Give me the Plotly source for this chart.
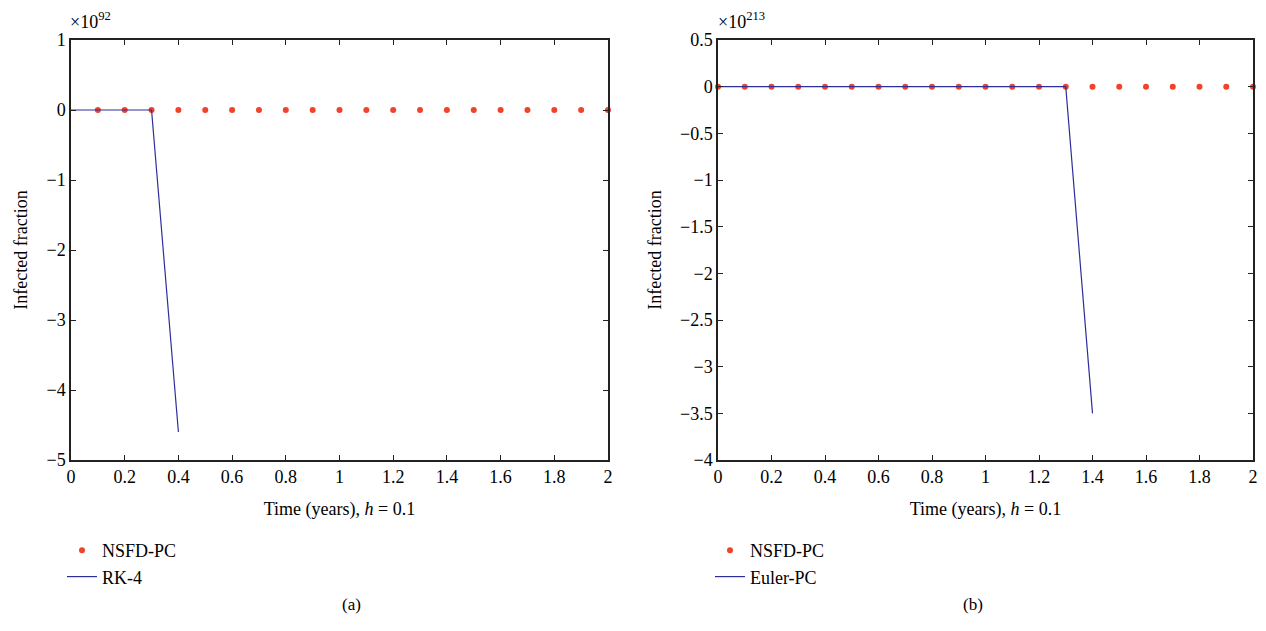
import plotly.graph_objects as go

# Panel (a): values in units of 1e92
xa_dots = [0.1,0.2,0.3,0.4,0.5,0.6,0.7,0.8,0.9,1.0,1.1,1.2,1.3,1.4,1.5,1.6,1.7,1.8,1.9,2.0]
ya_dots = [0]*20
xa_line = [0,0.1,0.2,0.3,0.4]
ya_line = [0,0,0,0,-4.6]
# Panel (b): values in units of 1e213
xb_dots = [0,0.1,0.2,0.3,0.4,0.5,0.6,0.7,0.8,0.9,1.0,1.1,1.2,1.3,1.4,1.5,1.6,1.7,1.8,1.9,2.0]
yb_dots = [0]*21
xb_line = [0,0.1,0.2,0.3,0.4,0.5,0.6,0.7,0.8,0.9,1.0,1.1,1.2,1.3,1.4]
yb_line = [0]*14 + [-3.5]

W, H, OFF = 1250, 615, 8
def px(x): return (x - OFF) / W
def py(y): return 1 - (y - OFF) / H

RED = "#F0432A"
NAVY = "#2E2E9A"
fig = go.Figure()
fig.add_trace(go.Scatter(x=xa_dots, y=ya_dots, mode="markers", marker=dict(color=RED, size=6),
                         name="NSFD-PC", xaxis="x", yaxis="y", legend="legend", cliponaxis=False))
fig.add_trace(go.Scatter(x=xa_line, y=ya_line, mode="lines", line=dict(color=NAVY, width=1.2),
                         name="RK-4", xaxis="x", yaxis="y", legend="legend"))
fig.add_trace(go.Scatter(x=xb_dots, y=yb_dots, mode="markers", marker=dict(color=RED, size=6),
                         name="NSFD-PC", xaxis="x2", yaxis="y2", legend="legend2", cliponaxis=False))
fig.add_trace(go.Scatter(x=xb_line, y=yb_line, mode="lines", line=dict(color=NAVY, width=1.2),
                         name="Euler-PC", xaxis="x2", yaxis="y2", legend="legend2"))

ax = dict(showgrid=False, zeroline=False, showline=True, linecolor="#222222", linewidth=1.5,
          mirror="ticks", ticks="inside", ticklen=5, tickcolor="#222222", tickfont=dict(size=18),
          automargin=False)
fig.update_layout(
    width=W, height=H, margin=dict(l=0, r=0, t=0, b=0),
    paper_bgcolor="white", plot_bgcolor="white",
    font=dict(family="Liberation Serif", color="black", size=18),
    xaxis=dict(ax, domain=[px(71), px(608)], range=[0, 2], dtick=0.2, anchor="y",
               title=dict(text="Time (years), <i>h</i> = 0.1", font=dict(size=18), standoff=16)),
    yaxis=dict(ax, domain=[py(460), py(40)], range=[-5, 1], dtick=1, anchor="x",
               title=dict(text="Infected fraction", font=dict(size=18), standoff=14)),
    xaxis2=dict(ax, domain=[px(718), px(1253)], range=[0, 2], dtick=0.2, anchor="y2",
                title=dict(text="Time (years), <i>h</i> = 0.1", font=dict(size=18), standoff=16)),
    yaxis2=dict(ax, domain=[py(460), py(40)], range=[-4, 0.5], dtick=0.5, anchor="x2",
                title=dict(text="Infected fraction", font=dict(size=18), standoff=14)),
    legend=dict(x=px(62), y=py(532), xanchor="left", yanchor="top", font=dict(size=18),
                bgcolor="rgba(0,0,0,0)", tracegroupgap=0),
    legend2=dict(x=px(710), y=py(532), xanchor="left", yanchor="top", font=dict(size=18),
                 bgcolor="rgba(0,0,0,0)", tracegroupgap=0),
    annotations=[
        dict(text="×10<sup>92</sup>", x=px(68), y=py(20), xref="paper", yref="paper",
             xanchor="left", yanchor="middle", showarrow=False, font=dict(size=18)),
        dict(text="×10<sup>213</sup>", x=px(716), y=py(20), xref="paper", yref="paper",
             xanchor="left", yanchor="middle", showarrow=False, font=dict(size=18)),
        dict(text="(a)", x=px(340), y=py(616), xref="paper", yref="paper",
             showarrow=False, font=dict(size=17)),
        dict(text="(b)", x=px(985), y=py(616), xref="paper", yref="paper",
             showarrow=False, font=dict(size=17)),
    ],
)
fig.write_html("out.html")
